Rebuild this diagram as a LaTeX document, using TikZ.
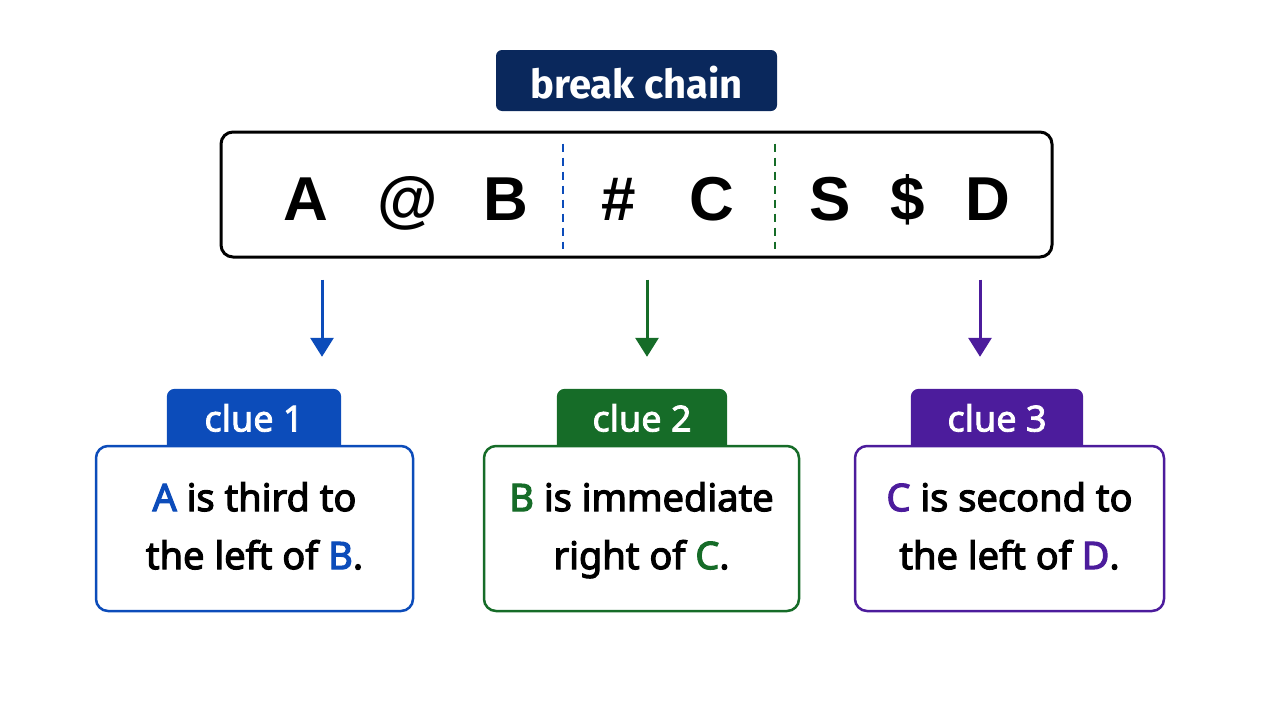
\documentclass[tikz,border=0pt]{standalone}
\usepackage{fontspec}
\setmainfont{Noto Sans}[AutoFakeBold=2.2]
\newfontfamily\chainfont{Liberation Sans}
\newfontfamily\titlefont{Fira Sans}
\newfontfamily\cluefont{Noto Sans}[AutoFakeBold=3]
\usetikzlibrary{arrows.meta,calc,backgrounds}

\definecolor{navy}{RGB}{10,40,92}
\definecolor{clueblue}{RGB}{12,76,186}
\definecolor{cluegreen}{RGB}{22,108,40}
\definecolor{cluepurple}{RGB}{76,28,156}

\begin{document}
\begin{tikzpicture}[x=1pt,y=-1pt]

\tikzset{%
    letter/.style={anchor=base,font=\chainfont\bfseries\fontsize{62}{62}\selectfont},
    cut/.style={line width=2pt,dash pattern=on 8pt off 6pt},
    down/.style={line width=3pt,-{Triangle[length=19pt,width=23pt]}},
    tab/.style={minimum width=#1,minimum height=58pt,inner sep=0pt,text=white,font=\bfseries\fontsize{36}{36}\selectfont},
    cluebox/.style n args={2}{draw=#1,line width=2.5pt,rounded corners=12pt,fill=white,minimum width=#2,minimum height=165pt,inner sep=0pt,align=center,font=\cluefont\bfseries\fontsize{38}{58}\selectfont},
}

\useasboundingbox (0,0) rectangle (1280,720);

% title
\node [fill=navy,rounded corners=6pt,minimum width=281pt,minimum height=61pt,text=white,text height=35pt,text depth=0pt,
       font=\titlefont\bfseries\fontsize{40}{40}\selectfont] (title) at (636.5,80.5) {break chain};

% the chain
\node [draw,line width=3pt,rounded corners=12pt,minimum width=831pt,minimum height=125pt] (chain) at (636.5,194.5) {};

\foreach \ch/\x [count=\i] in {A/306,@/408,B/506,\#/619,C/712,S/830,\$/908,D/988}
    \node [letter] (l\i) at (\x,220) {\ch};

\coordinate (cut1) at ($(l3)!.5!(l4)$);
\coordinate (cut2) at ($(l5)!.53!(l6)$);
\draw [cut,clueblue] ([yshift=-13pt]chain.north -| cut1) -- ([yshift=10pt]chain.south -| cut1);
\draw [cut,cluegreen] ([yshift=-13pt]chain.north -| cut2) -- ([yshift=10pt]chain.south -| cut2);

% clues
\node [tab=174pt] (tab1) at (254,418) {clue 1};
\node [cluebox={clueblue}{317pt}] (box1) at (254.5,528.5)
    {\strut\textcolor{clueblue}{A} is third to\\\strut the left of \textcolor{clueblue}{B}.};

\node [tab=170pt] (tab2) at (642,418) {clue 2};
\node [cluebox={cluegreen}{315pt}] (box2) at (641.5,528.5)
    {\strut\textcolor{cluegreen}{B} is immediate\\\strut right of \textcolor{cluegreen}{C}.};

\node [tab=172pt] (tab3) at (997,418) {clue 3};
\node [cluebox={cluepurple}{309pt}] (box3) at (1009.5,528.5)
    {\strut\textcolor{cluepurple}{C} is second to\\\strut the left of \textcolor{cluepurple}{D}.};

\begin{scope}[on background layer]
\fill [clueblue,rounded corners=8pt] (tab1.south west) -- (tab1.north west) -- (tab1.north east) -- (tab1.south east);
\fill [cluegreen,rounded corners=8pt] (tab2.south west) -- (tab2.north west) -- (tab2.north east) -- (tab2.south east);
\fill [cluepurple,rounded corners=8pt] (tab3.south west) -- (tab3.north west) -- (tab3.north east) -- (tab3.south east);
\end{scope}

% arrows
\coordinate (d1) at (322,0);
\coordinate (d2) at (647,0);
\coordinate (d3) at (980,0);
\draw [down,clueblue] ([yshift=-21pt]chain.south -| d1) -- ([yshift=32pt]tab1.north -| d1);
\draw [down,cluegreen] ([yshift=-21pt]chain.south -| d2) -- ([yshift=32pt]tab2.north -| d2);
\draw [down,cluepurple] ([yshift=-21pt]chain.south -| d3) -- ([yshift=32pt]tab3.north -| d3);

\end{tikzpicture}
\end{document}
